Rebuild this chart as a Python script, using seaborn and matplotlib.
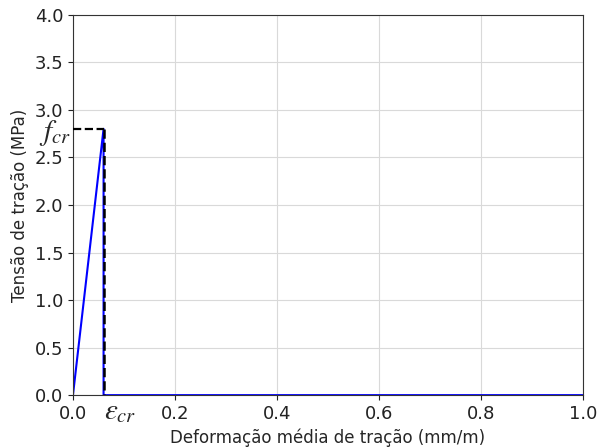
import matplotlib
matplotlib.use("Agg")
import matplotlib.pyplot as plt
import seaborn as sns
import pandas as pd

# data
strain = [0.0, 0.06, 0.06, 1.0]
stress = [0.0, 2.8, 0.0, 0.0]
eps_cr = 0.06
f_cr = 2.8
xticks = [0.0, 0.2, 0.4, 0.6, 0.8, 1.0]
yticks = [0.0, 0.5, 1.0, 1.5, 2.0, 2.5, 3.0, 3.5, 4.0]

sns.set_style("ticks")
plt.rcParams['font.family'] = ['DejaVu Sans']
plt.rcParams['mathtext.fontset'] = 'stix'

fig = plt.figure(figsize=(5.98, 4.48), dpi=100)
ax = fig.add_axes([0.122, 0.118, 0.853, 0.849])

df = pd.DataFrame({"x": strain, "y": stress})
ax.grid(True, color="#d9d9d9", linewidth=0.8)
ax.set_axisbelow(True)
sns.lineplot(data=df, x="x", y="y", sort=False, color="blue", linewidth=1.5, ax=ax, estimator=None)
ax.plot([0, eps_cr], [f_cr, f_cr], color="black", linestyle="--", linewidth=1.6, zorder=5)
ax.plot([eps_cr, eps_cr], [f_cr, 0], color="black", linestyle="--", linewidth=1.8, zorder=5)

ax.set_xlim(0, 1.0)
ax.set_ylim(0, 4.0)
ax.set_xticks(xticks)
ax.set_yticks(yticks)
ax.tick_params(labelsize=13, colors="#222222")
for s in ax.spines.values():
    s.set_color("#333333")
ax.set_xlabel("Deformação média de tração (mm/m)", fontsize=12)
ax.set_ylabel("Tensão de tração (MPa)", fontsize=12)

ax.text(-0.004, 2.76, r"$f_{cr}$", fontsize=21, ha="right", va="center", clip_on=False)
ax.text(0.092, -0.02, r"$\varepsilon_{cr}$", fontsize=21, ha="center", va="top", clip_on=False)

fig.savefig("out.png", dpi=100)
